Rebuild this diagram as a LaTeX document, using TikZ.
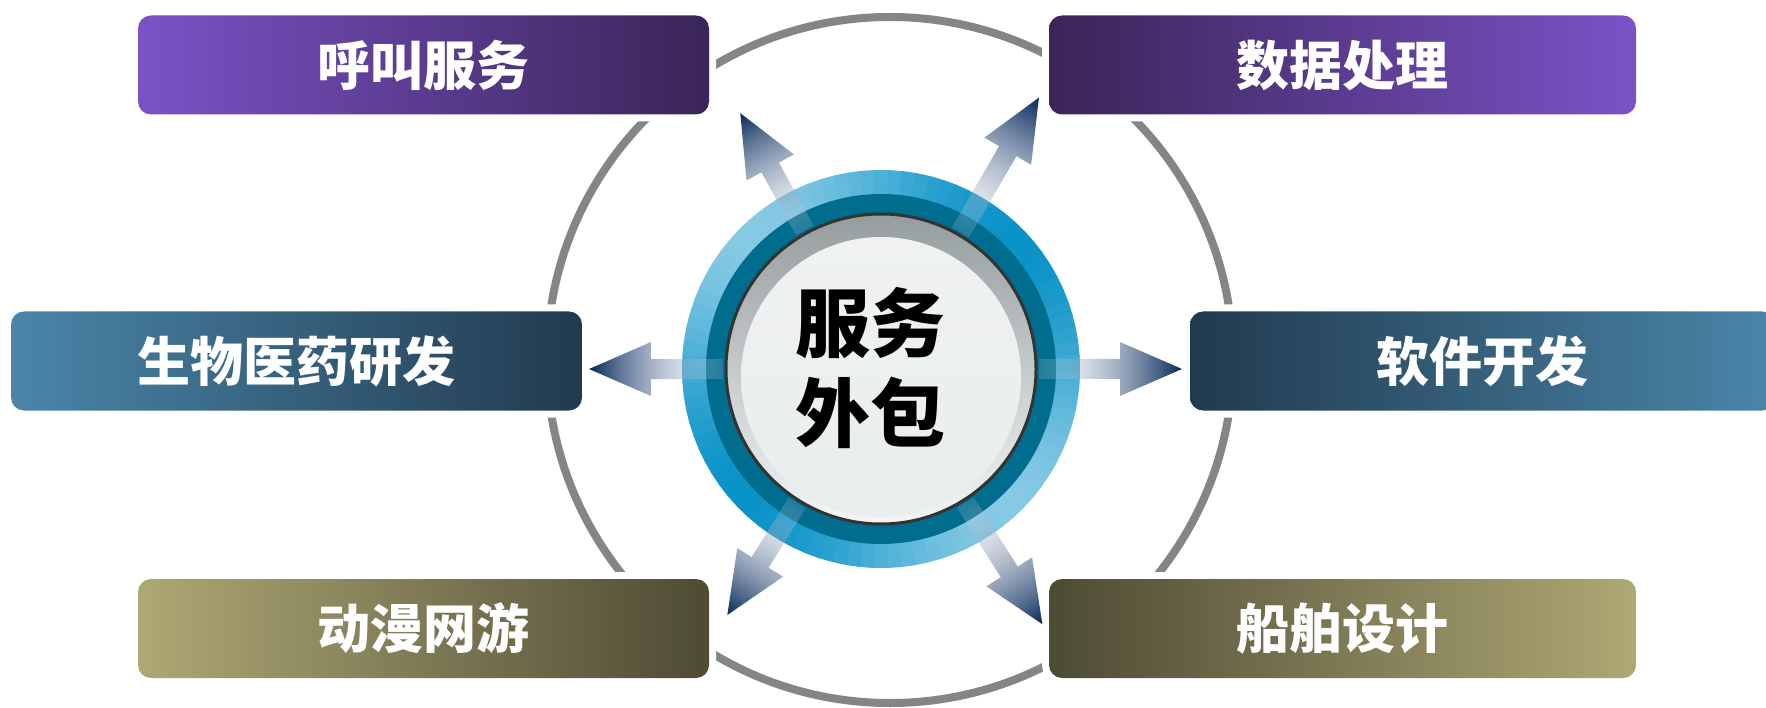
\documentclass[tikz,border=0pt]{standalone}
\usepackage{fontspec}
\newfontfamily\cjk{Noto Sans CJK SC}
\usetikzlibrary{fadings}
\definecolor{purL}{HTML}{7B52C6}
\definecolor{purM}{HTML}{6445A6}
\definecolor{purD}{HTML}{3A2558}
\definecolor{tealL}{HTML}{4A86AA}
\definecolor{tealM}{HTML}{3B7193}
\definecolor{tealD}{HTML}{213A4E}
\definecolor{oliL}{HTML}{AEA874}
\definecolor{oliM}{HTML}{858158}
\definecolor{oliD}{HTML}{4E4B35}
\definecolor{arcgray}{HTML}{858585}
\definecolor{ringL}{HTML}{86C9E4}
\definecolor{ringD}{HTML}{0A93C8}
\definecolor{ringdeep}{HTML}{006C8E}
\definecolor{silTop}{HTML}{959D9F}
\definecolor{silBot}{HTML}{F4F6F6}
\definecolor{inTop}{HTML}{F0F2F2}
\definecolor{inMid}{HTML}{D3D9DA}
\definecolor{inBot}{HTML}{E9EDED}
\definecolor{rimblack}{HTML}{333333}
\definecolor{arrL}{HTML}{DCE2EC}
\definecolor{arrM}{HTML}{3A5C88}
\definecolor{arrD}{HTML}{06295A}
\tikzfading[name=arrowfade, left color=transparent!85, middle color=transparent!0, right color=transparent!0]
\newcommand\outarrow[2]{%
  \pgfmathsetmacro\hb{#2-62}%
  \begin{scope}[transform canvas={rotate around={#1:(881,369)}}]
    \shade[left color=arrL, middle color=arrM, right color=arrD, path fading=arrowfade]
      (881+158,369-10) -- (881+\hb,369-10) -- (881+\hb,369-27) -- (881+#2,369)
      -- (881+\hb,369+27) -- (881+\hb,369+10) -- (881+158,369+10) -- cycle;
  \end{scope}}
\begin{document}
\begin{tikzpicture}[x=1pt,y=-1pt,
  box/.style={rounded corners=13pt, inner sep=0pt, minimum height=99pt, text=white,
    font=\cjk\bfseries\fontsize{53}{60}\selectfont,
    preaction={draw=white, line width=14pt}},
  coretext/.style={align=center, text=black, font=\cjk\bfseries\fontsize{75}{90}\selectfont}]
\useasboundingbox (0,0) rectangle (1766,708);
\fill[white] (0,0) rectangle (1766,708);
% outer gray circle
\draw[arcgray, line width=8pt] (890,360) circle[radius=343];
% boxes
\node[box, minimum width=571pt, left color=purL, middle color=purM, right color=purD] (call) at (423.5,65) {呼叫服务};
\node[box, minimum width=587pt, left color=purD, middle color=purM, right color=purL] (data) at (1342.5,65) {数据处理};
\node[box, minimum width=571pt, left color=tealL, middle color=tealM, right color=tealD] (bio) at (296.5,361) {生物医药研发};
\node[box, minimum width=585pt, left color=tealD, middle color=tealM, right color=tealL] (soft) at (1482.5,361) {软件开发};
\node[box, minimum width=571pt, left color=oliL, middle color=oliM, right color=oliD] (anim) at (423.5,628.5) {动漫网游};
\node[box, minimum width=587pt, left color=oliD, middle color=oliM, right color=oliL] (ship) at (1342.5,628.5) {船舶设计};
% center ring
\begin{scope}[shift={(881,369)}]
  \foreach \a in {0,4,...,356}{
    \pgfmathsetmacro\tv{50+50*cos(2*(\a-45))}
    \pgfmathsetmacro\bv{\a+4.6}
    \fill[ringL!\tv!ringD] (\a:174) arc[start angle=\a, end angle=\bv, radius=174]
      -- (\bv:199) arc[start angle=\bv, end angle=\a, radius=199] -- cycle;
  }
  \fill[ringdeep] (0,0) circle[radius=175];
  \shade[top color=silTop, bottom color=silBot] (0,0) circle[radius=154];
  \shade[top color=inTop, middle color=inMid, bottom color=inBot] (0,8) circle[radius=140];
  \draw[rimblack, line width=3pt] (0,0) circle[radius=155];
\end{scope}
% arrows
\outarrow{118.8}{292}
\outarrow{59.8}{314}
\outarrow{180}{292}
\outarrow{0}{301}
\outarrow{-122}{290}
\outarrow{-57.7}{302}
% center text
\node[coretext] (core) at (870,368) {服务\\外包};
\end{tikzpicture}
\end{document}
